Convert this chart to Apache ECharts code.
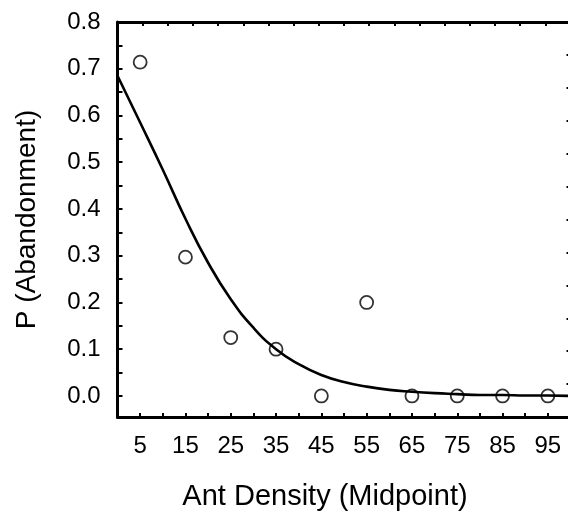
<!DOCTYPE html>
<html>
<head>
<meta charset="utf-8">
<script src="https://cdn.jsdelivr.net/npm/echarts@6/dist/echarts.min.js"></script>
<style>html,body{margin:0;padding:0;background:#fff;}#chart{width:568px;height:512px;}</style>
</head>
<body>
<div id="chart"></div>
<script>
// Observed data (ant density midpoints)
const categories = [5, 15, 25, 35, 45, 55, 65, 75, 85, 95];
const observed = [0.714, 0.297, 0.125, 0.100, 0.000, 0.200, 0.000, 0.000, 0.000, 0.000];
// Fitted curve
const curveX = [0, 5, 10, 15, 20, 25, 30, 35, 40, 45, 50, 55, 60, 65, 70, 75, 80, 85, 90, 95, 100];
const curveY = [0.685, 0.585, 0.484, 0.379, 0.285, 0.207, 0.146, 0.100, 0.068, 0.045, 0.030, 0.020, 0.013, 0.009, 0.006, 0.004, 0.002, 0.002, 0.001, 0.001, 0.000];
// Tick labels
const xTickLabels = [5, 15, 25, 35, 45, 55, 65, 75, 85, 95];
const xTicks = [5, 10, 15, 20, 25, 30, 35, 40, 45, 50, 55, 60, 65, 70, 75, 80, 85, 90, 95];
const yTickLabels = [0, 0.1, 0.2, 0.3, 0.4, 0.5, 0.6, 0.7, 0.8];
const yTicks = [0, 0.05, 0.1, 0.15, 0.2, 0.25, 0.3, 0.35, 0.4, 0.45, 0.5, 0.55, 0.6, 0.65, 0.7, 0.75, 0.8];

const FONT = '"Liberation Sans", Arial, sans-serif';
const chart = echarts.init(document.getElementById('chart'), null, {renderer: 'canvas'});
const axisLine = {show: true, onZero: false, lineStyle: {color: '#000', width: 3}};
chart.setOption({
  animation: false,
  backgroundColor: '#fff',
  grid: {left: 117.5, right: -2.5, top: 22, bottom: 95, containLabel: false, outerBoundsMode: 'none'},
  xAxis: [{
    type: 'value', min: 0, max: 100, position: 'bottom',
    axisLine: axisLine,
    axisTick: {show: true, inside: true, length: 4, lineStyle: {color: '#000', width: 2}, customValues: xTicks},
    axisLabel: {show: true, color: '#000', fontFamily: FONT, fontSize: 24, margin: 17, customValues: xTickLabels},
    splitLine: {show: false},
    name: 'Ant Density (Midpoint)', nameLocation: 'middle', nameGap: 65,
    nameTextStyle: {color: '#000', fontFamily: FONT, fontSize: 29, padding: [0, 38, 0, 0]}
  }, {
    type: 'value', min: 0, max: 18, interval: 1, position: 'top',
    axisLine: axisLine,
    axisTick: {show: true, inside: true, length: 4, lineStyle: {color: '#000', width: 2}},
    axisLabel: {show: false}, splitLine: {show: false}
  }],
  yAxis: [{
    type: 'value', min: -0.045, max: 0.8, position: 'left',
    axisLine: axisLine,
    axisTick: {show: true, inside: true, length: 5, lineStyle: {color: '#000', width: 2}, customValues: yTicks},
    axisLabel: {show: true, color: '#000', fontFamily: FONT, fontSize: 24, margin: 17, customValues: yTickLabels,
      formatter: v => Number(v).toFixed(1)},
    splitLine: {show: false},
    name: 'P (Abandonment)', nameLocation: 'middle', nameGap: 76,
    nameTextStyle: {color: '#000', fontFamily: FONT, fontSize: 28}
  }, {
    type: 'value', min: 0, max: 12, interval: 1, position: 'right',
    axisLine: axisLine,
    axisTick: {show: true, inside: true, length: 4, lineStyle: {color: '#000', width: 2}},
    axisLabel: {show: false}, splitLine: {show: false}
  }],
  series: [{
    type: 'line', xAxisIndex: 0, yAxisIndex: 0,
    data: curveX.map((x, i) => [x, curveY[i]]),
    smooth: true, showSymbol: false, symbol: 'none',
    lineStyle: {color: '#000', width: 2.6}, z: 2
  }, {
    type: 'scatter', xAxisIndex: 0, yAxisIndex: 0,
    data: categories.map((c, i) => [c, observed[i]]),
    symbol: 'circle', symbolSize: 13,
    itemStyle: {color: 'rgba(0,0,0,0)', borderColor: '#000', borderWidth: 1.8}, z: 3
  }]
});
</script>
</body>
</html>
